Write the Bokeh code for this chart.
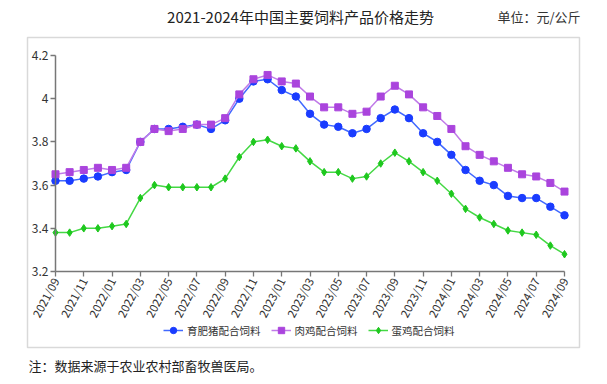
import math
from bokeh.plotting import figure
from bokeh.models import Range1d, FixedTicker, Label, Legend, LegendItem, ColumnDataSource
from bokeh.embed import file_html
from bokeh.resources import INLINE

months = ["2021/09", "2021/10", "2021/11", "2021/12", "2022/01", "2022/02", "2022/03", "2022/04",
          "2022/05", "2022/06", "2022/07", "2022/08", "2022/09", "2022/10", "2022/11", "2022/12",
          "2023/01", "2023/02", "2023/03", "2023/04", "2023/05", "2023/06", "2023/07", "2023/08",
          "2023/09", "2023/10", "2023/11", "2023/12", "2024/01", "2024/02", "2024/03", "2024/04",
          "2024/05", "2024/06", "2024/07", "2024/08", "2024/09"]
pig = [3.62, 3.62, 3.63, 3.64, 3.66, 3.67, 3.80, 3.86, 3.86, 3.87, 3.88, 3.86, 3.90, 4.00, 4.08,
       4.09, 4.04, 4.01, 3.93, 3.88, 3.87, 3.84, 3.86, 3.91, 3.95, 3.91, 3.84, 3.80, 3.74, 3.67,
       3.62, 3.60, 3.55, 3.54, 3.54, 3.50, 3.46]
broiler = [3.65, 3.66, 3.67, 3.68, 3.67, 3.68, 3.80, 3.86, 3.85, 3.86, 3.88, 3.88, 3.91, 4.02,
           4.09, 4.11, 4.08, 4.07, 4.01, 3.96, 3.96, 3.93, 3.94, 4.01, 4.06, 4.02, 3.96, 3.92,
           3.86, 3.78, 3.74, 3.71, 3.68, 3.65, 3.64, 3.61, 3.57]
layer = [3.38, 3.38, 3.40, 3.40, 3.41, 3.42, 3.54, 3.60, 3.59, 3.59, 3.59, 3.59, 3.63, 3.73,
         3.80, 3.81, 3.78, 3.77, 3.71, 3.66, 3.66, 3.63, 3.64, 3.70, 3.75, 3.71, 3.66, 3.62,
         3.56, 3.49, 3.45, 3.42, 3.39, 3.38, 3.37, 3.32, 3.28]
series_names = ["育肥猪配合饲料", "肉鸡配合饲料", "蛋鸡配合饲料"]
y_ticks = [3.2, 3.4, 3.6, 3.8, 4.0, 4.2]
y_tick_labels = ["3.2", "3.4", "3.6", "3.8", "4", "4.2"]
title_text = "2021-2024年中国主要饲料产品价格走势"
unit_text = "单位：元/公斤"
note_text = "注：数据来源于农业农村部畜牧兽医局。"

FONT = "Noto Sans CJK SC"
W, H = 599, 376
idx = list(range(len(months)))
src = ColumnDataSource(dict(x=idx, pig=pig, broiler=broiler, layer=layer))

# frame covers the whole canvas; axes are pinned inside it
AX_L, AX_R, AX_T, AX_B = 55, 564, 55, 271   # axis extents on the canvas (px)
px_x = (AX_R - AX_L) / (len(months) - 1)
px_y = (AX_B - AX_T) / (y_ticks[-1] - y_ticks[0])
x_rng = Range1d(-AX_L / px_x, len(months) - 1 + (W - AX_R) / px_x)
y_rng = Range1d(y_ticks[0] - (H - AX_B) / px_y, y_ticks[-1] + AX_T / px_y)

def dx(px):
    return (px - AX_L) / px_x

def dy(py):
    return y_ticks[0] + (AX_B - py) / px_y

p = figure(width=W, height=H, output_backend="svg", toolbar_location=None,
           x_range=x_rng, y_range=y_rng,
           min_border=0, min_border_left=0, min_border_right=0,
           min_border_top=0, min_border_bottom=0)
p.outline_line_color = None
p.grid.visible = False
p.background_fill_color = "white"
p.border_fill_color = "white"

# outer light frame around the chart area
p.quad(left=[dx(27)], right=[dx(579)], top=[dy(37)], bottom=[dy(347)],
       fill_color=None, line_color="#d9d9d9", line_width=1.5)

xa = p.xaxis[0]
xa.fixed_location = y_ticks[0]
xa.bounds = (0, len(months) - 1)
xa.ticker = FixedTicker(ticks=idx[::2])
xa.major_label_overrides = {i: months[i] for i in idx[::2]}
xa.major_label_orientation = math.radians(62)
xa.major_tick_out = 5
xa.major_tick_in = 0
xa.minor_tick_line_color = None
xa.axis_line_color = "#777777"
xa.axis_line_width = 1.5
xa.major_tick_line_color = "#777777"
xa.major_tick_line_width = 1.3
xa.major_label_text_font = FONT
xa.major_label_text_font_size = "11.5px"
xa.major_label_text_color = "#333333"
xa.major_label_standoff = 2

ya = p.yaxis[0]
ya.fixed_location = 0
ya.bounds = (y_ticks[0], y_ticks[-1])
ya.ticker = FixedTicker(ticks=y_ticks)
ya.major_label_overrides = {t: l for t, l in zip(y_ticks, y_tick_labels)}
ya.axis_line_color = "#777777"
ya.axis_line_width = 1.5
ya.major_tick_line_color = "#777777"
ya.major_tick_line_width = 1.3
ya.minor_tick_line_color = None
ya.major_tick_out = 5
ya.major_tick_in = 0
ya.major_label_standoff = 2
ya.major_label_text_font = FONT
ya.major_label_text_font_size = "12px"
ya.major_label_text_color = "#333333"

l1 = p.line("x", "pig", source=src, line_color="#4169ff", line_width=1.5)
m1 = p.scatter("x", "pig", source=src, marker="circle", size=7.5, fill_color="#1a3cff",
               line_color="#1a3cff")
l2 = p.line("x", "broiler", source=src, line_color="#c07be8", line_width=1.5)
m2 = p.scatter("x", "broiler", source=src, marker="square", size=7, fill_color="#aa44dd",
               line_color="#aa44dd")
l3 = p.line("x", "layer", source=src, line_color="#44d844", line_width=1.5)
m3 = p.scatter("x", "layer", source=src, marker="diamond", size=7.5, fill_color="#1ec81e",
               line_color="#1ec81e")

legend = Legend(items=[LegendItem(label=series_names[0], renderers=[l1, m1]),
                       LegendItem(label=series_names[1], renderers=[l2, m2]),
                       LegendItem(label=series_names[2], renderers=[l3, m3])],
                orientation="horizontal", location=(163, 38),
                glyph_width=20, glyph_height=16, label_standoff=4, spacing=10, padding=0,
                margin=0, border_line_color=None, background_fill_alpha=0,
                label_text_font=FONT, label_text_font_size="10.5px", label_text_color="#333333")
p.add_layout(legend, "center")

p.add_layout(Label(x=300, y=H - 16, x_units="screen", y_units="screen", text=title_text,
                   text_align="center", text_baseline="middle", text_font=FONT,
                   text_font_size="15px", text_color="#222222"))
p.add_layout(Label(x=497, y=H - 16, x_units="screen", y_units="screen", text=unit_text,
                   text_align="left", text_baseline="middle", text_font=FONT,
                   text_font_size="13px", text_color="#333333"))
p.add_layout(Label(x=28, y=H - 365, x_units="screen", y_units="screen", text=note_text,
                   text_align="left", text_baseline="middle", text_font=FONT,
                   text_font_size="13px", text_color="#222222"))

open("out.html", "w").write(file_html(p, INLINE))
